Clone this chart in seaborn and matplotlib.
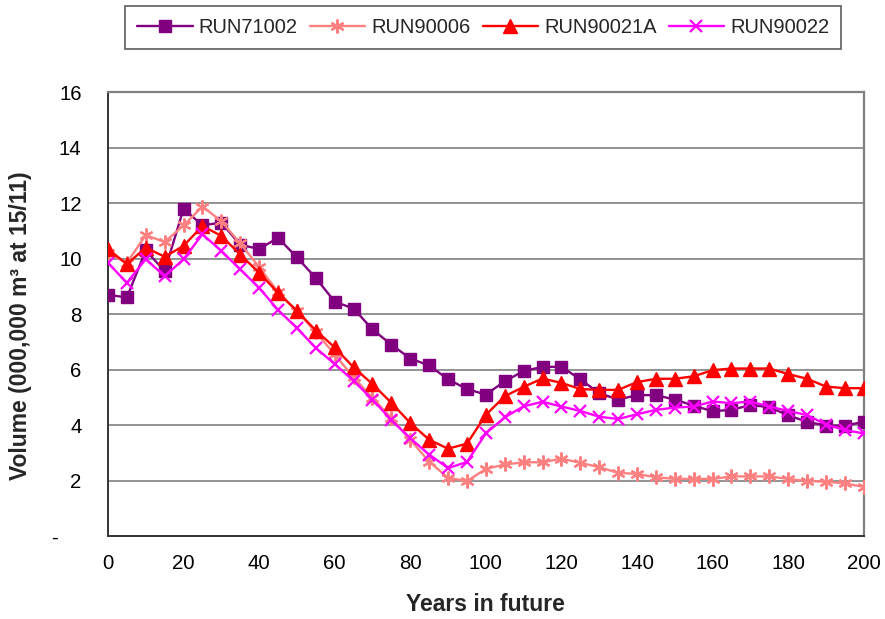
import numpy as np
import pandas as pd
import matplotlib
matplotlib.use("Agg")
import matplotlib.pyplot as plt
import matplotlib.transforms as mtransforms
import seaborn as sns

# Years in the future (5-year steps)
years = list(range(0, 205, 5))

run71002 = [8.7, 8.6, 10.3, 9.55, 11.8, 11.2, 11.3, 10.5, 10.35, 10.75,
            10.05, 9.3, 8.45, 8.2, 7.45, 6.9, 6.4, 6.15, 5.65, 5.3,
            5.1, 5.58, 5.95, 6.1, 6.1, 5.65, 5.15, 4.92, 5.08, 5.08,
            4.92, 4.7, 4.5, 4.55, 4.72, 4.65, 4.35, 4.12, 3.98, 3.98, 4.12]

run90006 = [10.2, 9.85, 10.85, 10.6, 11.2, 11.88, 11.35, 10.55, 9.7, 8.8,
            8.1, 7.35, 6.55, 5.72, 4.98, 4.25, 3.47, 2.68, 2.1, 1.98,
            2.42, 2.58, 2.66, 2.66, 2.79, 2.64, 2.48, 2.28, 2.24, 2.12,
            2.06, 2.06, 2.06, 2.15, 2.15, 2.15, 2.06, 1.98, 1.96, 1.9, 1.77]

run90021a = [10.35, 9.8, 10.4, 10.07, 10.46, 11.18, 10.82, 10.15, 9.49, 8.77,
             8.12, 7.41, 6.8, 6.08, 5.48, 4.8, 4.08, 3.47, 3.15, 3.33,
             4.37, 5.04, 5.38, 5.68, 5.52, 5.3, 5.27, 5.27, 5.55, 5.67,
             5.67, 5.76, 5.98, 6.04, 6.04, 6.04, 5.84, 5.67, 5.39, 5.33, 5.33]

run90022 = [9.85, 9.13, 9.98, 9.37, 9.98, 10.88, 10.28, 9.61, 8.95, 8.15,
            7.5, 6.78, 6.2, 5.6, 4.92, 4.18, 3.52, 2.94, 2.45, 2.67,
            3.7, 4.28, 4.68, 4.84, 4.67, 4.51, 4.3, 4.22, 4.39, 4.55,
            4.63, 4.67, 4.85, 4.79, 4.85, 4.67, 4.51, 4.36, 4.02, 3.82, 3.7]

series_names = ["RUN71002", "RUN90006", "RUN90021A", "RUN90022"]
series_values = [run71002, run90006, run90021a, run90022]

y_ticks = [0, 2, 4, 6, 8, 10, 12, 14, 16]
y_tick_labels = ["-", "2", "4", "6", "8", "10", "12", "14", "16"]
x_ticks = [0, 20, 40, 60, 80, 100, 120, 140, 160, 180, 200]

df = pd.DataFrame({
    "Years in future": np.tile(years, len(series_names)),
    "Volume": np.concatenate(series_values),
    "Run": np.repeat(series_names, len(years)),
})

styles = {
    "RUN71002": dict(color="#800080", marker="s", ms=8, mew=1.0, mfc="#800080"),
    "RUN90006": dict(color="#FF8080", marker=(6, 2, 0), ms=10, mew=1.6, mfc="#FF8080"),
    "RUN90021A": dict(color="#FF0000", marker="^", ms=10, mew=1.0, mfc="#FF0000"),
    "RUN90022": dict(color="#FF00FF", marker="x", ms=9, mew=1.6, mfc="#FF00FF"),
}

sns.set_style("white")
plt.rcParams["font.family"] = ["Liberation Sans", "DejaVu Sans"]

fig = plt.figure(figsize=(8.85, 6.19), dpi=100)
ax = fig.add_axes([0.122, 0.134, 0.854, 0.717])

for name in series_names:
    st = styles[name]
    sub = df[df["Run"] == name]
    sns.lineplot(data=sub, x="Years in future", y="Volume", ax=ax,
                 color=st["color"], marker=st["marker"], markersize=st["ms"],
                 markeredgewidth=st["mew"], markeredgecolor=st["color"],
                 markerfacecolor=st["mfc"], linewidth=1.7, label=name,
                 legend=False, zorder=3)

ax.set_xlim(0, 200)
ax.set_ylim(0, 16)
ax.set_xticks(x_ticks)
ax.set_yticks(y_ticks)
ax.set_yticklabels(y_tick_labels)

for y in y_ticks[1:]:
    ax.axhline(y, color="#808080", linewidth=1.2, zorder=1)

for side in ["top", "right"]:
    ax.spines[side].set_color("#808080")
    ax.spines[side].set_linewidth(1.6)
for side in ["left", "bottom"]:
    ax.spines[side].set_color("#333333")
    ax.spines[side].set_linewidth(1.4)

ax.tick_params(axis="both", direction="out", length=5, width=1.2,
               color="#555555", labelsize=14.7, labelcolor="black")
ax.tick_params(axis="y", pad=14)
ax.tick_params(axis="x", pad=8)

# The zero label sits further left, like an accounting-style dash
zero_lbl = ax.get_yticklabels()[0]
zero_lbl.set_transform(zero_lbl.get_transform() +
                       mtransforms.ScaledTranslation(-0.24, 0, fig.dpi_scale_trans))

ax.set_xlabel("Years in future", fontsize=16.5, fontweight="bold", labelpad=14)
ax.set_ylabel("Volume (000,000 m³ at 15/11)", fontsize=16.5, fontweight="bold")
ax.yaxis.set_label_coords(-0.101, 0.475)

handles, labels = ax.get_legend_handles_labels()
leg = fig.legend(handles, labels, loc="center", bbox_to_anchor=(0.546, 0.955),
                 ncol=4, fontsize=14.5, frameon=True, fancybox=False,
                 edgecolor="#333333", handlelength=2.75, handletextpad=0.3,
                 columnspacing=0.6, borderpad=0.6)
leg.get_frame().set_linewidth(1.2)

fig.savefig("out.png", dpi=100)
